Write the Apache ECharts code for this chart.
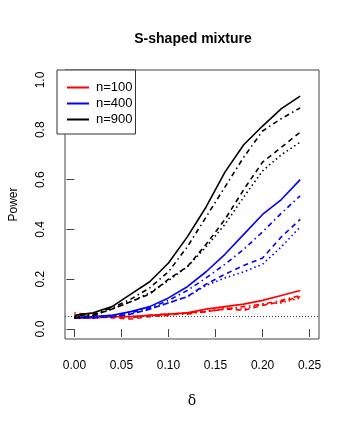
<!DOCTYPE html>
<html>
<head>
<meta charset="utf-8">
<title>S-shaped mixture</title>
<script src="https://cdn.jsdelivr.net/npm/echarts@6/dist/echarts.min.js"></script>
<style>
  html, body { margin: 0; padding: 0; background: #fff; }
  #chart { width: 349px; height: 426px; }
</style>
</head>
<body>
<div id="chart"></div>
<script>
// delta grid used in the simulation
const deltas = [0, 0.02, 0.04, 0.06, 0.08, 0.10, 0.12, 0.14, 0.16, 0.18, 0.20, 0.22, 0.24]

// power curves, one array per sample size and test (solid, dotdash, dashed, dotted)
const n100Solid   = [0.045, 0.045, 0.050, 0.050, 0.055, 0.060, 0.065, 0.080, 0.090, 0.100, 0.115, 0.135, 0.155]
const n100DotDash = [0.065, 0.055, 0.050, 0.045, 0.055, 0.060, 0.060, 0.070, 0.080, 0.090, 0.100, 0.115, 0.135]
const n100Dashed  = [0.050, 0.050, 0.045, 0.040, 0.050, 0.055, 0.065, 0.070, 0.080, 0.075, 0.095, 0.110, 0.130]
const n100Dotted  = [0.050, 0.045, 0.050, 0.050, 0.055, 0.060, 0.065, 0.070, 0.085, 0.080, 0.100, 0.105, 0.125]

const n400Solid   = [0.045, 0.050, 0.055, 0.070, 0.090, 0.125, 0.170, 0.230, 0.300, 0.380, 0.460, 0.520, 0.600]
const n400DotDash = [0.045, 0.050, 0.055, 0.065, 0.085, 0.115, 0.155, 0.205, 0.260, 0.320, 0.390, 0.465, 0.535]
const n400Dashed  = [0.045, 0.045, 0.050, 0.060, 0.080, 0.105, 0.130, 0.180, 0.220, 0.255, 0.285, 0.370, 0.440]
const n400Dotted  = [0.045, 0.045, 0.050, 0.060, 0.080, 0.105, 0.130, 0.175, 0.205, 0.230, 0.260, 0.330, 0.410]

const n900Solid   = [0.055, 0.065, 0.090, 0.140, 0.190, 0.265, 0.370, 0.490, 0.630, 0.740, 0.815, 0.885, 0.935]
const n900DotDash = [0.050, 0.060, 0.085, 0.120, 0.165, 0.230, 0.330, 0.450, 0.570, 0.690, 0.795, 0.845, 0.888]
const n900Dashed  = [0.045, 0.055, 0.080, 0.110, 0.140, 0.200, 0.250, 0.340, 0.440, 0.560, 0.670, 0.730, 0.790]
const n900Dotted  = [0.045, 0.055, 0.080, 0.110, 0.145, 0.195, 0.250, 0.330, 0.420, 0.530, 0.635, 0.700, 0.750]

const alphaLevel = 0.05
const xTicks = [0, 0.05, 0.10, 0.15, 0.20, 0.25]
const yTicks = [0, 0.2, 0.4, 0.6, 0.8, 1.0]
const legendNames = ['n=100', 'n=400', 'n=900']

const FONT = '"Liberation Sans", Arial, Helvetica, sans-serif'
const dashStyles = {
  solid: 'solid',
  dotdash: [1.5, 3.5, 5, 3.5],
  dashed: [5, 4],
  dotted: [1.5, 3]
}

function makeSeries(name, values, color, lty) {
  return {
    name: name,
    type: 'line',
    data: deltas.map((d, i) => [d, values[i]]),
    symbol: 'none',
    smooth: false,
    silent: true,
    animation: false,
    lineStyle: { color: color, width: 1.6, type: dashStyles[lty], cap: 'butt' },
    itemStyle: { color: color }
  }
}

const groups = [
  { label: 'n=100', color: '#ff0000', lines: [n100Solid, n100DotDash, n100Dashed, n100Dotted] },
  { label: 'n=400', color: '#0000ff', lines: [n400Solid, n400DotDash, n400Dashed, n400Dotted] },
  { label: 'n=900', color: '#000000', lines: [n900Solid, n900DotDash, n900Dashed, n900Dotted] }
]
const ltys = ['solid', 'dotdash', 'dashed', 'dotted']

const series = []
groups.forEach(g => {
  g.lines.forEach((vals, k) => {
    // only the solid one carries the legend name
    const nm = k === 0 ? g.label : g.label + ' ' + ltys[k]
    series.push(makeSeries(nm, vals, g.color, ltys[k]))
  })
})

// horizontal reference at the nominal level
series[0].markLine = {
  silent: true,
  symbol: 'none',
  label: { show: false },
  lineStyle: { color: '#444', width: 1, type: [1, 2] },
  data: [{ yAxis: alphaLevel }]
}

const chart = echarts.init(document.getElementById('chart'), null, { renderer: 'canvas' })
chart.setOption({
  backgroundColor: '#fff',
  animation: false,
  title: {
    text: 'S-shaped mixture',
    left: 188,
    top: 27,
    textAlign: 'center',
    textStyle: { fontFamily: FONT, fontSize: 14, fontWeight: 'bold', color: '#000' }
  },
  legend: {
    data: legendNames,
    orient: 'vertical',
    left: 57,
    top: 70,
    icon: 'path://M0,0H22V2H0Z',
    itemWidth: 22,
    itemHeight: 14,
    itemGap: 3,
    padding: [11, 3, 8, 10],
    borderColor: '#333',
    borderWidth: 1,
    backgroundColor: '#fff',
    selectedMode: false,
    textStyle: { fontFamily: FONT, fontSize: 13, color: '#000', padding: [0, 0, 0, 2] }
  },
  grid: {
    left: 57,
    right: 30,
    top: 70,
    bottom: 87,
    show: true,
    borderColor: '#444',
    borderWidth: 1,
    backgroundColor: 'transparent'
  },
  xAxis: {
    type: 'value',
    min: -0.01,
    max: 0.26,
    name: 'δ',
    nameLocation: 'middle',
    nameGap: 55,
    nameTextStyle: { fontFamily: '"DejaVu Serif", "Liberation Serif", serif', fontSize: 14, color: '#000' },
    splitLine: { show: false },
    axisLine: { show: false },
    axisTick: { show: true, inside: false, length: 8, customValues: xTicks, lineStyle: { color: '#444' } },
    axisLabel: {
      customValues: xTicks,
      margin: 21,
      fontFamily: FONT,
      fontSize: 12,
      color: '#000',
      formatter: v => v.toFixed(2)
    }
  },
  yAxis: {
    type: 'value',
    min: -0.04,
    max: 1.04,
    name: 'Power',
    nameLocation: 'middle',
    nameGap: 45,
    nameRotate: 90,
    nameTextStyle: { fontFamily: FONT, fontSize: 12, color: '#000' },
    splitLine: { show: false },
    axisLine: { show: false },
    axisTick: { show: true, inside: false, length: 8, customValues: yTicks, lineStyle: { color: '#444' } },
    axisLabel: {
      customValues: yTicks,
      rotate: 90,
      margin: 18,
      fontFamily: FONT,
      fontSize: 12,
      color: '#000',
      formatter: v => v.toFixed(1)
    }
  },
  series: series
})
</script>
</body>
</html>
